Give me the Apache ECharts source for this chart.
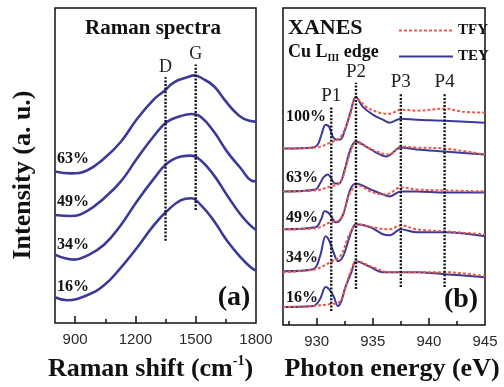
<!DOCTYPE html>
<html>
<head>
<meta charset="utf-8">
<script src="https://cdn.jsdelivr.net/npm/echarts@6/dist/echarts.min.js"></script>
<style>
  html, body { margin: 0; padding: 0; background: #fff; }
  #chart { width: 504px; height: 387px; }
</style>
</head>
<body>
<div id="chart"></div>
<script>
// (a) Raman spectra  [shift (cm-1), intensity (a.u., stacked)]
const raman63 = [[800,15.3],[880,15.1],[959,15.4],[1044,16.6],[1128,18.3],[1208,20.6],[1293,22.6],[1342,23.4],[1392,24.3],[1457,24.8],[1492,25.0],[1541,24.6],[1591,23.9],[1641,22.6],[1691,21.4],[1740,20.6],[1800,20.3]];
const raman49 = [[800,10.9],[880,10.8],[959,11.3],[1044,12.6],[1128,14.3],[1208,16.6],[1293,18.9],[1357,20.3],[1427,20.9],[1477,21.1],[1526,20.8],[1591,19.3],[1656,17.3],[1725,15.6],[1775,14.4],[1800,14.3]];
const raman34 = [[800,6.9],[895,6.4],[959,6.8],[1044,7.9],[1128,9.9],[1208,12.3],[1293,14.6],[1357,16.1],[1427,16.8],[1477,16.9],[1526,16.4],[1591,14.9],[1656,12.9],[1725,10.9],[1775,9.8],[1800,9.4]];
const raman16 = [[800,2.6],[860,2.3],[959,2.8],[1044,3.8],[1128,5.6],[1208,7.6],[1293,9.9],[1357,11.3],[1427,12.4],[1477,12.6],[1526,11.9],[1591,10.3],[1656,8.3],[1725,6.6],[1775,5.6],[1800,5.3]];
const ramanSeries = [raman63, raman49, raman34, raman16];

// D / G band markers
const bandNames = ['D', 'G'];
const bandX = [1350, 1500];
const bandLow = [8.3, 11.4];
const bandHigh = [24.8, 26.1];

// (b) XANES Cu L_III edge  [photon energy (eV), intensity]
const tey100 = [[927,17.7],[929.7,17.8],[930.1,18.1],[930.4,19.0],[930.8,20.1],[931.1,19.9],[931.4,19.0],[931.7,18.6],[932.1,18.6],[932.5,19.5],[933.0,21.3],[933.5,22.9],[934.1,21.9],[935.0,21.1],[935.9,20.6],[936.5,20.3],[937.5,20.7],[938.9,20.6],[941.4,20.5],[945,20.3]];
const tfy100 = [[927,17.7],[929.9,17.8],[931.2,18.3],[932.1,18.8],[933.0,21.1],[933.5,22.8],[934.4,21.9],[935.6,21.3],[936.5,21.2],[937.5,21.6],[938.9,21.5],[941.4,21.7],[943.0,21.4],[945,21.3]];
const tey63 = [[927,13.4],[929.9,13.6],[930.3,14.2],[930.6,14.8],[931.0,15.1],[931.3,14.7],[931.6,14.2],[932.0,14.2],[932.5,15.6],[933.0,17.6],[933.5,18.4],[934.4,17.9],[935.3,17.3],[936.2,16.9],[937.5,17.8],[938.9,17.6],[941.4,17.4],[945,17.1]];
const tfy63 = [[927,13.4],[929.9,13.5],[931.2,13.9],[932.1,14.3],[933.0,17.3],[933.5,18.3],[934.6,17.8],[935.6,17.3],[936.5,17.1],[937.5,17.9],[938.9,17.8],[941.4,17.7],[945,17.1]];
const tey49 = [[927,9.6],[929.9,9.8],[930.4,10.6],[930.7,11.4],[931.0,11.3],[931.3,10.9],[931.7,10.3],[932.0,10.4],[932.4,11.2],[933.0,13.6],[933.5,14.2],[934.8,13.6],[935.9,13.1],[936.5,12.9],[937.5,13.4],[938.9,13.4],[941.4,13.3],[945,13.3]];
const tfy49 = [[927,9.6],[929.9,9.7],[931.2,10.3],[932.1,10.6],[933.0,13.3],[933.7,14.0],[934.8,13.4],[935.9,13.1],[936.5,13.2],[937.5,13.8],[938.9,13.6],[941.4,13.5],[945,13.4]];
const tey34 = [[927,5.4],[929.7,5.6],[930.3,6.9],[930.8,8.9],[931.1,8.5],[931.5,7.3],[931.9,6.4],[932.2,6.6],[932.5,7.3],[933.1,9.4],[933.5,10.1],[934.8,9.8],[935.9,9.1],[936.5,9.0],[937.5,9.6],[938.9,9.3],[941.4,9.3],[945,8.9]];
const tfy34 = [[927,5.3],[929.9,5.6],[931.2,6.3],[932.1,6.9],[933.0,9.3],[933.7,10.1],[935.0,9.8],[936.5,9.6],[937.5,10.0],[938.9,9.6],[941.4,9.4],[945,9.1]];
const tey16 = [[927,1.8],[929.7,1.9],[930.3,2.6],[930.8,3.8],[931.1,3.6],[931.5,2.9],[931.9,1.9],[932.2,2.4],[932.5,3.6],[933.1,5.3],[933.5,6.4],[934.8,5.8],[935.9,5.3],[937.5,5.3],[938.9,5.3],[941.4,5.1],[945,4.8]];
const tfy16 = [[927,1.8],[929.4,1.9],[931.2,2.1],[932.1,2.4],[933.0,5.3],[933.6,6.4],[934.8,5.9],[936.5,5.3],[938.9,5.3],[941.4,5.3],[945,4.9]];
const teySeries = [tey100, tey63, tey49, tey34, tey16];
const tfySeries = [tfy100, tfy63, tfy49, tfy34, tfy16];

// P1..P4 markers
const peakNames = ['P1', 'P2', 'P3', 'P4'];
const peakX = [931.3, 933.5, 937.5, 941.4];
const peakLow = [1.4, 3.6, 3.8, 3.8];
const peakHigh = [21.9, 24.3, 23.3, 23.3];

// tick values
const ramanLabels = [900, 1200, 1500, 1800];
const ramanMajor = [900, 1200, 1500];
const ramanMinor = [1050, 1350, 1650];
const xanesLabels = [930, 935, 940, 945];
const xanesMajor = [930, 935, 940];
const xanesMinor = [927.5, 932.5, 937.5, 942.5];

const BLUE = '#3b3a9a';
const RED = '#ee5a45';
const SERIF = '"Liberation Serif", "DejaVu Serif", serif';
const SANS = '"Liberation Sans", Arial, sans-serif';

const myChart = echarts.init(document.getElementById('chart'), null, { renderer: 'canvas' });

const tickAxis = (grid, min, max, labels, ticks, len, withLabel, name, namePad) => {
  const ax = {
    gridIndex: grid, type: 'value', min: min, max: max, position: 'bottom',
    axisLine: { show: false },
    splitLine: { show: false },
    axisTick: { show: true, inside: true, length: len, customValues: ticks, lineStyle: { color: '#111', width: 1.5 } },
    axisLabel: withLabel
      ? { customValues: labels, formatter: v => String(v), color: '#2a2a2a', fontSize: 15, fontFamily: SANS, margin: 9 }
      : { show: false }
  };
  if (name) {
    ax.name = name;
    ax.nameLocation = 'middle';
    ax.nameGap = 31;
    ax.nameTextStyle = {
      fontFamily: SERIF, fontWeight: 'bold', fontSize: 26, color: '#111', padding: namePad,
      rich: { sup: { fontFamily: SERIF, fontWeight: 'bold', fontSize: 14, color: '#111', padding: [0, 0, 16, 0] } }
    };
  }
  return ax;
};

// dotted vertical marker with its name above the top end
const markerSeries = (xAxisIndex, yAxisIndex, names, xs, lows, highs, fontSize) => names.map((n, i) => ({
  type: 'line', xAxisIndex: xAxisIndex, yAxisIndex: yAxisIndex, z: 5,
  symbol: 'circle', symbolSize: 0.5, showSymbol: true, silent: true,
  itemStyle: { color: 'rgba(0,0,0,0)', borderWidth: 0 },
  lineStyle: { color: '#111', width: 2.4, type: [2, 1.6] },
  label: { show: false },
  data: [
    [xs[i], lows[i]],
    { value: [xs[i], highs[i]], label: { show: true, position: 'top', distance: 1, formatter: n, fontFamily: SERIF, fontSize: fontSize, color: '#222' } }
  ]
}));

const series = [];
ramanSeries.forEach(d => {
  series.push({ type: 'line', xAxisIndex: 0, yAxisIndex: 0, data: d, smooth: 0.45, symbol: 'none', lineStyle: { color: BLUE, width: 2.6 } });
});
teySeries.forEach(d => {
  series.push({ name: 'TEY', type: 'line', xAxisIndex: 2, yAxisIndex: 1, data: d, smooth: 0.35, symbol: 'none', itemStyle: { color: BLUE }, lineStyle: { color: BLUE, width: 2 } });
});
tfySeries.forEach(d => {
  series.push({ name: 'TFY', type: 'line', xAxisIndex: 2, yAxisIndex: 1, data: d, smooth: 0.35, symbol: 'none', itemStyle: { color: RED }, lineStyle: { color: RED, width: 2, type: [3, 2] } });
});
series.push(...markerSeries(0, 0, bandNames, bandX, bandLow, bandHigh, 18));
series.push(...markerSeries(2, 1, peakNames, peakX, peakLow, peakHigh, 19));

const txt = (x, y, text, font, align, extra) => Object.assign({
  type: 'text', x: x, y: y, z: 10,
  style: { text: text, font: font, fill: '#111', align: align || 'left', verticalAlign: 'middle' }
}, extra || {});

const pctFont = 'bold 16px ' + SERIF;

const option = {
  backgroundColor: '#fff',
  animation: false,
  grid: [
    { left: 55, top: 8, width: 201, height: 318, show: true, borderColor: '#111', borderWidth: 1.5, backgroundColor: 'transparent' },
    { left: 283, top: 8, width: 202, height: 318, show: true, borderColor: '#111', borderWidth: 1.5, backgroundColor: 'transparent' }
  ],
  xAxis: [
    tickAxis(0, 800, 1800, ramanLabels, ramanMajor, 7, true, 'Raman shift (cm{sup|-1})', [0, 10, 0, 0]),
    tickAxis(0, 800, 1800, null, ramanMinor, 4, false),
    tickAxis(1, 927, 945, xanesLabels, xanesMajor, 7, true, 'Photon energy (eV)', [0, 0, 0, 16]),
    tickAxis(1, 927, 945, null, xanesMinor, 4, false)
  ],
  yAxis: [
    { gridIndex: 0, type: 'value', min: 0, max: 31.8, show: false },
    { gridIndex: 1, type: 'value', min: 0, max: 31.8, show: false }
  ],
  legend: {
    data: ['TFY', 'TEY'],
    orient: 'vertical', left: 393, top: 18,
    itemWidth: 54, itemHeight: 14, itemGap: 11, selectedMode: false,
    itemStyle: { opacity: 0 },
    textStyle: { fontFamily: SERIF, fontWeight: 'bold', fontSize: 15, color: '#111' }
  },
  graphic: [
    txt(23, 175, 'Intensity (a. u.)', 'bold 26px ' + SERIF, 'center', { rotation: Math.PI / 2 }),
    txt(153, 29, 'Raman spectra', 'bold 21px ' + SERIF, 'center'),
    txt(234, 298, '(a)', 'bold 28px ' + SERIF, 'center'),
    txt(57, 159, '63%', pctFont), txt(57, 202, '49%', pctFont), txt(57, 245, '34%', pctFont), txt(57, 287, '16%', pctFont),
    txt(288, 28, 'XANES', 'bold 22px ' + SERIF),
    {
      type: 'text', x: 288, y: 52, z: 10,
      style: {
        text: 'Cu L{s|III} edge', font: 'bold 18px ' + SERIF, fill: '#111', verticalAlign: 'middle',
        rich: { s: { font: 'bold 10px ' + SERIF, fill: '#111', padding: [12, 0, 0, 0] } }
      }
    },
    txt(461, 300, '(b)', 'bold 28px ' + SERIF, 'center'),
    txt(286, 117, '100%', pctFont), txt(286, 178, '63%', pctFont), txt(286, 218, '49%', pctFont),
    txt(286, 258, '34%', pctFont), txt(286, 298, '16%', pctFont)
  ],
  series: series
};

myChart.setOption(option);
</script>
</body>
</html>
